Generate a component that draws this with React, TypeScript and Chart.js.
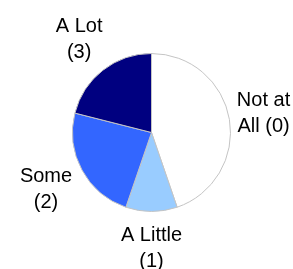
import React, { useEffect, useRef } from "react";
import { Chart, registerables } from "chart.js";

Chart.register(...registerables);

const categories = ["Not at All (0)", "A Little (1)", "Some (2)", "A Lot (3)"];
const labelLines = [
  ["Not at", "All (0)"],
  ["A Little", "(1)"],
  ["Some", "(2)"],
  ["A Lot", "(3)"],
];
const values = [17, 4, 9, 8];
const colors = ["#FFFFFF", "#99CCFF", "#3366FF", "#000080"];

const outsideLabels = {
  id: "outsideLabels",
  afterDatasetsDraw(chart: any) {
    const ctx = chart.ctx;
    const meta = chart.getDatasetMeta(0);
    const lh = 26;
    ctx.save();
    ctx.font = "20px 'Liberation Sans', Arial, sans-serif";
    ctx.fillStyle = "#000000";
    ctx.textAlign = "center";
    ctx.textBaseline = "middle";
    meta.data.forEach((arc: any, i: number) => {
      const { x, y, startAngle, endAngle, outerRadius } = arc.getProps(
        ["x", "y", "startAngle", "endAngle", "outerRadius"],
        true
      );
      const mid = (startAngle + endAngle) / 2;
      const dx = Math.cos(mid);
      const dy = Math.sin(mid);
      const gap = 4 + (dy > 0 ? 7 * dy * dy : 0);
      const lines = labelLines[i];
      const w = Math.max(...lines.map((l) => ctx.measureText(l).width));
      const hw = w / 2;
      const hh = (lines.length * lh) / 2;
      const d = outerRadius + gap + Math.abs(dx) * hw + Math.abs(dy) * hh;
      const cx = x + dx * d;
      const cy = y + dy * d;
      lines.forEach((l, j) => {
        ctx.fillText(l, cx, cy + (j - (lines.length - 1) / 2) * lh);
      });
    });
    ctx.restore();
  },
};

export default function App() {
  const ref = useRef<HTMLCanvasElement>(null);
  useEffect(() => {
    if (!ref.current) return;
    const chart = new Chart(ref.current, {
      type: "pie",
      data: {
        labels: categories,
        datasets: [
          {
            data: values,
            backgroundColor: colors,
            borderColor: "#C4C4C4",
            borderWidth: 1,
          },
        ],
      },
      options: {
        responsive: false,
        animation: false,
        layout: { padding: { left: 72, right: 62, top: 53, bottom: 57 } },
        plugins: {
          legend: { display: false },
          tooltip: { enabled: false },
        },
      },
      plugins: [outsideLabels],
    });
    return () => chart.destroy();
  }, []);
  return (
    <div style={{ position: "absolute", left: 0, top: 0, width: 293, height: 269, background: "#fff" }}>
      <canvas ref={ref} width={293} height={269} />
    </div>
  );
}
